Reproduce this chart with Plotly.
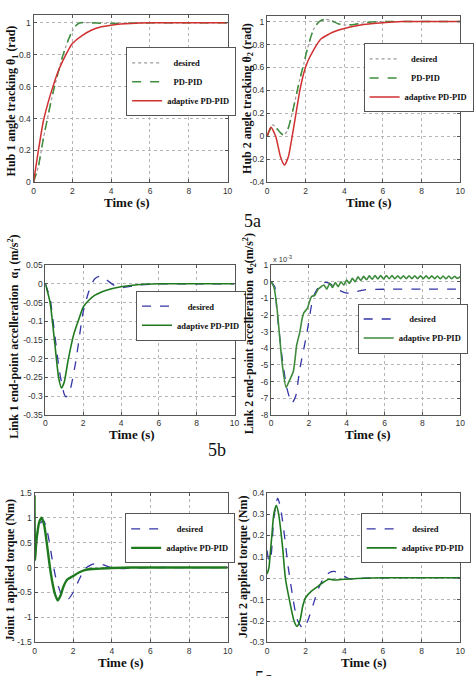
import numpy as np
import plotly.graph_objects as go

W, H = 476, 676

# ---------------- DATA ----------------
# Plot 5a-left: hub 1 angle (rad)
t1_des = [0, 0.25, 0.5, 0.75, 1.0, 1.25, 1.5, 1.75, 2.0, 2.2, 2.4, 2.6, 3.0, 4, 5, 6, 8, 10]
th1_des = [0, 0.1, 0.27, 0.42, 0.56, 0.68, 0.79, 0.88, 0.95, 0.985, 1.0, 1.002, 1.0, 0.996, 0.998, 1.0, 1.0, 1.0]
t1_pd = [0, 0.25, 0.5, 0.75, 1.0, 1.25, 1.5, 1.75, 2.0, 2.2, 2.4, 2.6, 3.0, 4, 5, 6, 8, 10]
th1_pd = [0, 0.1, 0.27, 0.42, 0.56, 0.68, 0.79, 0.88, 0.95, 0.985, 1.0, 1.002, 1.0, 0.995, 0.998, 1.0, 1.0, 1.0]
t1_ad = [0, 0.1, 0.25, 0.5, 0.75, 1.0, 1.25, 1.5, 1.75, 2.0, 2.5, 3.0, 3.5, 4.0, 4.5, 5, 6, 8, 10]
th1_ad = [0, 0.08, 0.2, 0.38, 0.5, 0.6, 0.69, 0.76, 0.82, 0.87, 0.92, 0.955, 0.975, 0.985, 0.992, 0.996, 1.0, 1.0, 1.0]

# Plot 5a-right: hub 2 angle (rad)
t2_des = [0, 0.3, 0.55, 0.85, 1.05, 1.3, 1.5, 1.7, 1.9, 2.1, 2.4, 2.7, 3.0, 3.3, 3.7, 4.0, 4.5, 5, 6, 8, 10]
th2_des = [0, 0.1, 0.06, 0.01, 0.05, 0.2, 0.35, 0.5, 0.63, 0.77, 0.93, 1.0, 1.02, 1.01, 0.98, 0.97, 0.975, 0.99, 1.0, 1.0, 1.0]
t2_pd = [0, 0.3, 0.55, 0.85, 1.05, 1.3, 1.5, 1.7, 1.9, 2.1, 2.4, 2.7, 3.0, 3.3, 3.7, 4.0, 4.5, 5, 6, 8, 10]
th2_pd = [0, 0.1, 0.06, 0.01, 0.05, 0.2, 0.35, 0.5, 0.63, 0.77, 0.93, 1.0, 1.02, 1.01, 0.98, 0.97, 0.975, 0.99, 1.0, 1.0, 1.0]
t2_ad = [0, 0.2, 0.45, 0.7, 0.9, 1.1, 1.3, 1.5, 1.7, 1.9, 2.1, 2.4, 2.8, 3.2, 3.6, 4.0, 4.5, 5, 6, 7, 10]
th2_ad = [0, 0.08, 0.0, -0.18, -0.25, -0.18, 0.0, 0.2, 0.4, 0.55, 0.65, 0.75, 0.85, 0.89, 0.92, 0.94, 0.96, 0.975, 0.99, 1.0, 1.0]

# Plot 5b-left: link 1 end-point acceleration (m/s^2)
t3_des = [0, 0.25, 0.5, 0.75, 1.0, 1.1, 1.3, 1.6, 2.0, 2.3, 2.6, 2.85, 3.2, 3.6, 4.0, 4.5, 5, 6, 8, 10]
a1_des = [0, -0.04, -0.137, -0.235, -0.295, -0.302, -0.285, -0.21, -0.075, -0.02, 0.013, 0.02, 0.012, -0.003, -0.01, -0.007, -0.003, 0.0, 0.0, 0.0]
t3_ad = [0, 0.25, 0.5, 0.7, 0.85, 1.0, 1.2, 1.5, 1.8, 2.0, 2.3, 2.6, 3.0, 3.5, 4.0, 5, 6, 8, 10]
a1_ad = [0, -0.05, -0.16, -0.25, -0.278, -0.262, -0.205, -0.135, -0.09, -0.062, -0.044, -0.031, -0.021, -0.013, -0.008, -0.002, 0.0, 0.0, 0.0]

# Plot 5b-right: link 2 end-point acceleration (x 1e-3 m/s^2)
t4_des = [0, 0.2, 0.3, 0.57, 0.84, 1.1, 1.3, 1.53, 1.88, 2.23, 2.5, 2.8, 3.1, 3.5, 4.0, 4.5, 5, 6, 8, 10]
a2_des_e3 = [0, -0.3, -1.6, -4.4, -6.4, -7.3, -6.9, -5.2, -3.2, -0.95, -0.35, -0.05, -0.1, -0.45, -0.68, -0.6, -0.48, -0.45, -0.45, -0.45]
t4_ad = [0, 0.15, 0.3, 0.45, 0.6, 0.8, 0.95, 1.18, 1.36, 1.53, 1.65, 1.74, 1.92, 2.14, 2.32, 2.5, 2.65,
         2.8, 2.95, 3.1, 3.25, 3.4, 3.55, 3.7, 3.85, 4.0, 4.15, 4.3, 4.45, 4.6, 4.75, 4.9, 5.05, 5.2, 5.35,
         5.5, 5.65, 5.8, 5.95, 6.1, 6.25, 6.4, 6.55, 6.7, 6.85, 7.0, 7.15, 7.3, 7.45, 7.6, 7.75, 7.9, 8.05,
         8.2, 8.35, 8.5, 8.65, 8.8, 8.95, 9.1, 9.25, 9.4, 9.55, 9.7, 9.85, 10.0]
a2_ad_e3 = [0, -0.3, -1.4, -3.2, -5.0, -6.35, -6.0, -5.4, -3.8, -3.0, -2.2, -1.86, -1.6, -0.9, -0.8, -0.44, -0.3,
            -0.2, -0.45, -0.1, -0.35, -0.05, -0.3, 0.0, -0.2, 0.1, -0.1, 0.2, 0.0, 0.3, 0.08, 0.32, 0.12, 0.35, 0.15,
            0.37, 0.17, 0.37, 0.17, 0.37, 0.18, 0.37, 0.18, 0.36, 0.18, 0.36, 0.18, 0.36, 0.18, 0.36, 0.18, 0.35, 0.18,
            0.35, 0.18, 0.35, 0.18, 0.34, 0.18, 0.34, 0.18, 0.34, 0.18, 0.33, 0.2, 0.3]

# Plot 5c-left: joint 1 torque (Nm)
t5_des = [0, 0.1, 0.2, 0.3, 0.45, 0.6, 0.75, 0.9, 1.1, 1.35, 1.55, 1.75, 2.0, 2.3, 2.6, 2.9, 3.2, 3.5, 3.8, 4.1, 4.5, 5, 6, 8, 10]
tq1_des = [0.55, 0.62, 0.76, 0.88, 0.95, 0.82, 0.55, 0.2, -0.2, -0.5, -0.62, -0.63, -0.5, -0.25, -0.03, 0.05, 0.08, 0.06, 0.02, -0.01, -0.02, -0.01, 0, 0, 0]
t5_ad = [0, 0.03, 0.08, 0.15, 0.25, 0.37, 0.5, 0.65, 0.8, 0.95, 1.05, 1.2, 1.35, 1.5, 1.7, 2.0, 2.3, 2.6, 3.0, 3.5, 4.0, 5, 6, 8, 10]
tq1_ad = [1.45, 0.15, 0.45, 0.7, 0.92, 1.0, 0.85, 0.45, 0.0, -0.35, -0.52, -0.66, -0.56, -0.38, -0.24, -0.17, -0.1, -0.05, -0.03, -0.02, -0.01, 0.0, 0.0, 0.0, 0.0]

# Plot 5c-right: joint 2 torque (Nm)
t6_des = [0, 0.1, 0.2, 0.35, 0.55, 0.7, 0.9, 1.1, 1.3, 1.55, 1.85, 2.1, 2.4, 2.7, 3.0, 3.3, 3.5, 3.8, 4.2, 4.6, 5, 6, 8, 10]
tq2_des = [0.13, 0.08, 0.1, 0.28, 0.375, 0.33, 0.2, 0.05, -0.07, -0.19, -0.235, -0.2, -0.12, -0.04, 0.01, 0.03, 0.032, 0.02, 0.0, -0.005, 0.0, 0.002, 0.003, 0.003]
t6_ad = [0, 0.1, 0.15, 0.25, 0.35, 0.48, 0.6, 0.8, 0.95, 1.2, 1.4, 1.55, 1.7, 1.85, 2.0, 2.3, 2.6, 2.9, 3.2, 3.5, 4.0, 5, 6, 8, 10]
tq2_ad = [0.02, 0.05, 0.1, 0.2, 0.3, 0.34, 0.3, 0.15, 0.0, -0.12, -0.2, -0.225, -0.2, -0.13, -0.09, -0.06, -0.04, -0.02, -0.005, -0.008, -0.005, 0.0, 0.002, 0.002, 0.002]

# Tick labels
x_ticks = [0, 2, 4, 6, 8, 10]
y1_ticks = [0, 0.2, 0.4, 0.6, 0.8, 1]
y2_ticks = [-0.4, -0.2, 0, 0.2, 0.4, 0.6, 0.8, 1]
y3_ticks = [-0.35, -0.3, -0.25, -0.2, -0.15, -0.1, -0.05, 0, 0.05]
y4_ticks = [-8, -7, -6, -5, -4, -3, -2, -1, 0, 1]
y5_ticks = [-1.5, -1, -0.5, 0, 0.5, 1, 1.5]
y6_ticks = [-0.3, -0.2, -0.1, 0, 0.1, 0.2, 0.3, 0.4]

# ---------------- FIGURE ----------------
def px(x):
    return x / W

def py(y):
    return 1 - y / H

def lab(v):
    return "%g" % v

SERIF = "Liberation Serif, Times New Roman, serif"
SANS = "Liberation Sans, Arial, sans-serif"

RED = "#d03030"
GREEN_D = "#3f8f3f"
GREEN = "#1f7a1f"
BLUE = "#3535a8"
GRAY = "#9a9a9a"

fig = go.Figure()

panels = [
    (32, 229, 10, 180, [0, 1.05], y1_ticks, 1.0),
    (269, 465, 11, 180, [-0.4, 1.05], y2_ticks, 1.0),
    (44, 236, 264, 416, [-0.35, 0.05], y3_ticks, 1.0),
    (273, 465, 264, 416, [-8e-3, 1e-3], y4_ticks, 1e-3),
    (33, 229, 495, 647, [-1.5, 1.5], y5_ticks, 1.0),
    (269, 465, 495, 647, [-0.3, 0.4], y6_ticks, 1.0),
]

axis_common = dict(
    showline=True, linecolor="#555", linewidth=1, mirror="ticks",
    ticks="inside", ticklen=3, tickcolor="#555",
    showgrid=True, gridcolor="#b5b5b5", griddash="dot", gridwidth=1,
    zeroline=False, tickfont=dict(family=SANS, size=8.5, color="#333"),
)

for i, (l, r, t, b, yr, yt, sc) in enumerate(panels, start=1):
    xa = "xaxis" if i == 1 else f"xaxis{i}"
    ya = "yaxis" if i == 1 else f"yaxis{i}"
    fig.update_layout({
        xa: dict(domain=[px(l), px(r)], range=[0, 10], tickvals=x_ticks,
                 ticktext=[lab(v) for v in x_ticks], anchor=f"y{i if i > 1 else ''}",
                 ticklabelstandoff=0, **axis_common),
        ya: dict(domain=[py(b), py(t)], range=yr, tickvals=[v * sc for v in yt],
                 ticktext=[lab(v) for v in yt], anchor=f"x{i if i > 1 else ''}",
                 **axis_common),
    })

def add(x, y, i, name, color, dash, width, legend):
    xs = "x" if i == 1 else f"x{i}"
    ys = "y" if i == 1 else f"y{i}"
    fig.add_trace(go.Scatter(x=x, y=y, xaxis=xs, yaxis=ys, mode="lines", name=name,
                             line=dict(color=color, dash=dash, width=width, shape="spline", smoothing=0.6),
                             legend=legend))

NB = "\u00a0"
add(t1_des, th1_des, 1, NB * 3 + "desired", GRAY, "dot", 1.2, "legend")
add(t1_pd, th1_pd, 1, NB * 3 + "PD-PID", GREEN_D, "dash", 1.5, "legend")
add(t1_ad, th1_ad, 1, "adaptive PD-PID", RED, "solid", 1.5, "legend")

add(t2_des, th2_des, 2, NB * 3 + "desired", GRAY, "dot", 1.2, "legend2")
add(t2_pd, th2_pd, 2, NB * 3 + "PD-PID", GREEN_D, "dash", 1.5, "legend2")
add(t2_ad, th2_ad, 2, "adaptive PD-PID", RED, "solid", 1.5, "legend2")

add(t3_des, a1_des, 3, NB * 5 + "desired", BLUE, "dash", 1.3, "legend3")
add(t3_ad, a1_ad, 3, "adaptive PD-PID", GREEN, "solid", 1.6, "legend3")

add(t4_des, [v * 1e-3 for v in a2_des_e3], 4, NB * 5 + "desired", BLUE, "dash", 1.3, "legend4")
add(t4_ad, [v * 1e-3 for v in a2_ad_e3], 4, "adaptive PD-PID", "#3d8a3d", "solid", 1.6, "legend4")

add(t5_des, tq1_des, 5, NB * 5 + "desired", BLUE, "dash", 1.3, "legend5")
add(t5_ad, tq1_ad, 5, "adaptive PD-PID", GREEN, "solid", 2.4, "legend5")

add(t6_des, tq2_des, 6, NB * 5 + "desired", BLUE, "dash", 1.3, "legend6")
add(t6_ad, tq2_ad, 6, "adaptive PD-PID", GREEN, "solid", 1.6, "legend6")

leg_pos = {
    "legend": (126, 43),
    "legend2": (367, 39),
    "legend3": (136, 290),
    "legend4": (361, 303),
    "legend5": (125, 516),
    "legend6": (364, 516),
}
for k, (lx, ly) in leg_pos.items():
    fig.update_layout({k: dict(x=px(lx), y=py(ly), xanchor="left", yanchor="top",
                               xref="paper", yref="paper",
                               bgcolor="white", bordercolor="#555", borderwidth=1,
                               font=dict(family=SERIF, size=8.5, color="#111", weight="bold"),
                               itemwidth=30, tracegroupgap=0)})

annots = []
ytitles = [
    (10, 97, "Hub 1 angle tracking θ<sub>1</sub> (rad)"),
    (249, 95, "Hub 2 angle tracking θ<sub>2</sub> (rad)"),
    (12, 337, "Link 1 end-point accelleration  α<sub>1</sub> (m/s<sup>2</sup>)"),
    (251, 334, "Link 2 end-point accelleration  α<sub>2</sub>(m/s<sup>2</sup>)"),
    (8, 574, "Joint 1 applied torque (Nm)"),
    (244, 570, "Joint 2 applied torque (Nm)"),
]
for x, y, txt in ytitles:
    annots.append(dict(x=px(x), y=py(y), xref="paper", yref="paper", text="<b>" + txt + "</b>",
                       textangle=-90, showarrow=False, xanchor="center", yanchor="middle",
                       font=dict(family=SERIF, size=12, color="#111")))
xtitles = [(127, 200), (372, 200), (132, 436), (371, 436), (121, 667.5), (367, 667.5)]
for x, y in xtitles:
    annots.append(dict(x=px(x), y=py(y), xref="paper", yref="paper", text="<b>Time (s)</b>",
                       showarrow=False, xanchor="center", yanchor="middle",
                       font=dict(family=SERIF, size=13, color="#111")))
annots.append(dict(x=px(273), y=py(258), xref="paper", yref="paper", text="x 10<sup>-3</sup>",
                   showarrow=False, xanchor="left", yanchor="middle",
                   font=dict(family=SANS, size=7.5, color="#333")))
for x, y, txt in [(254, 219, "5a"), (218, 452, "5b"), (265, 683, "5c")]:
    annots.append(dict(x=px(x), y=py(y), xref="paper", yref="paper", text=txt,
                       showarrow=False, xanchor="center", yanchor="middle",
                       font=dict(family=SERIF, size=18, color="#111")))

fig.update_layout(width=W, height=H, margin=dict(l=0, r=0, t=0, b=0),
                  paper_bgcolor="white", plot_bgcolor="white", annotations=annots,
                  showlegend=True)

fig.write_html("out.html")
